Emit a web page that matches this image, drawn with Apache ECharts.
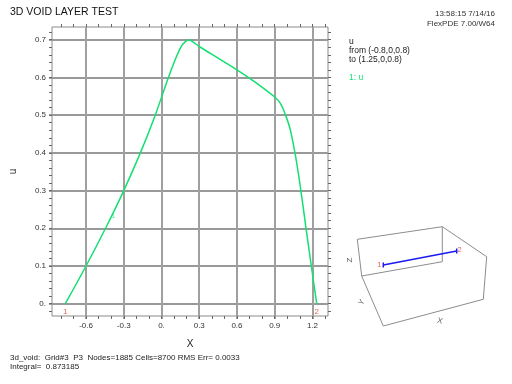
<!DOCTYPE html>
<html><head><meta charset="utf-8">
<script src="https://cdn.jsdelivr.net/npm/echarts@6/dist/echarts.min.js"></script>
<style>html,body{margin:0;padding:0;background:#fff}#c{width:512px;height:384px}</style>
</head><body><div id="c"></div>
<script>
// ---- data ----
const curveX = [-0.765,-0.6,-0.445,-0.30,-0.168,-0.05,0.055,0.103,0.155,0.19,0.221,0.25,0.3,0.45,0.6,0.75,0.9,0.945,0.984,1.024,1.071,1.108,1.149,1.191,1.234];
const curveU = [0,0.1,0.2,0.3,0.4,0.5,0.6,0.642,0.681,0.695,0.699,0.694,0.682,0.651,0.620,0.586,0.548,0.531,0.502,0.461,0.381,0.3,0.2,0.1,0];
const xTicks = [-0.6,-0.3,0,0.3,0.6,0.9,1.2];
const xMinor = [-0.8,-0.7,-0.6,-0.5,-0.4,-0.3,-0.2,-0.1,0,0.1,0.2,0.3,0.4,0.5,0.6,0.7,0.8,0.9,1.0,1.1,1.2,1.3];
const yTicks = [0,0.1,0.2,0.3,0.4,0.5,0.6,0.7];
const endLabels = ['1','2'];
// inset schematic (local units of the small 3D view)
const insetBoxPath = [[21.7,61],[17.3,24.3],[102.3,11.7],[146.7,41.7],[143.3,84.3],[43.3,111],[21.7,61],[102.3,46.7],[102.3,11.7]];
const insetLine = [[43.3,50],[116.7,36]];
const insetAxisNames = [['Z',9.3,45,90],['Y',21.7,87.3,60],['X',100,106,-15]];
const titleText = '3D VOID LAYER TEST';
const stampText = ['13:58:15 7/14/16','FlexPDE 7.00/W64'];
const legendText = ['u','from (-0.8,0,0.8)','to (1.25,0,0.8)'];
const footerText = ['3d_void:  Grid#3  P3  Nodes=1885 Cells=8700 RMS Err= 0.0033','Integral=  0.873185'];

const yMinor = [];
for (let i = -1; i <= 36; i++) yMinor.push(+(i*0.02).toFixed(2));

const XMIN = -0.8706, XMAX = 1.3236, YMIN = -0.0326, YMAX = 0.7337;
const FONT = 'Liberation Sans, Arial, sans-serif';
const GREEN = '#12e070';
const fmt = v => (Math.abs(v) < 1e-9 ? '0.' : (+v).toFixed(1));

const chart = echarts.init(document.getElementById('c'), null, {renderer:'canvas'});
const curve = curveX.map((x,i)=>[x,curveU[i]]);
const minorTickX = (pos)=>({type:'value',gridIndex:0,position:pos,min:XMIN,max:XMAX,
  axisLine:{show:false,onZero:false},axisLabel:{show:false},splitLine:{show:false},
  axisTick:{show:true,customValues:xMinor,length:3,inside:false,lineStyle:{color:'#666',width:1}}});
const minorTickY = (pos)=>({type:'value',gridIndex:0,position:pos,min:YMIN,max:YMAX,
  axisLine:{show:false,onZero:false},axisLabel:{show:false},splitLine:{show:false},
  axisTick:{show:true,customValues:yMinor,length:3,inside:false,lineStyle:{color:'#666',width:1}}});

chart.setOption({
  animation:false,
  textStyle:{fontFamily:FONT},
  grid:[
    {left:50,right:184,top:27,bottom:68,show:true,borderColor:'#8a8a8a',borderWidth:1,backgroundColor:'transparent'},
    {left:340,top:215,width:172,height:120,show:false}
  ],
  xAxis:[
    {type:'value',gridIndex:0,position:'bottom',min:XMIN,max:XMAX,
     axisLine:{show:false,onZero:false},
     axisTick:{show:true,customValues:xTicks,length:3,lineStyle:{color:'#a0a0a0',width:2}},
     axisLabel:{customValues:xTicks,formatter:fmt,fontSize:8,color:'#333',margin:6,fontFamily:FONT},
     splitLine:{show:true,lineStyle:{color:'#a0a0a0',width:2}},
     name:'X',nameLocation:'middle',nameGap:23,nameTextStyle:{fontSize:10,color:'#222',fontFamily:FONT}},
    minorTickX('bottom'),
    minorTickX('top'),
    {type:'value',gridIndex:1,min:0,max:172,show:false}
  ],
  yAxis:[
    {type:'value',gridIndex:0,position:'left',min:YMIN,max:YMAX,
     axisLine:{show:false,onZero:false},
     axisTick:{show:true,customValues:yTicks,length:3,lineStyle:{color:'#999',width:2}},
     axisLabel:{customValues:yTicks,formatter:fmt,fontSize:8,color:'#333',margin:6,fontFamily:FONT},
     splitLine:{show:true,lineStyle:{color:'#999',width:2}},
     name:'u',nameLocation:'middle',nameGap:34,nameTextStyle:{fontSize:10,color:'#222',fontFamily:FONT}},
    minorTickY('left'),
    minorTickY('right'),
    {type:'value',gridIndex:1,min:0,max:120,inverse:true,show:false}
  ],
  series:[
    {type:'line',xAxisIndex:0,yAxisIndex:0,data:curve,smooth:0.35,showSymbol:false,symbol:'none',
     lineStyle:{color:GREEN,width:1.5},z:5},
    {type:'scatter',xAxisIndex:0,yAxisIndex:0,symbolSize:1,itemStyle:{color:'transparent'},z:6,
     data:[
       {value:[curveX[0],curveU[0]],label:{show:true,formatter:endLabels[0],position:'bottom',distance:4,color:'#e03a3a',fontSize:8,fontFamily:FONT}},
       {value:[curveX[curveX.length-1],curveU[curveU.length-1]],label:{show:true,formatter:endLabels[1],position:'bottom',distance:4,color:'#e03a3a',fontSize:8,fontFamily:FONT}},
       {value:[-0.40,0.232],label:{show:true,formatter:'1',position:'right',distance:0,color:GREEN,fontSize:6,fontFamily:FONT}}
     ]},
    {type:'line',xAxisIndex:3,yAxisIndex:3,data:insetBoxPath,showSymbol:false,symbol:'none',
     lineStyle:{color:'#8c8c8c',width:1}},
    {type:'line',xAxisIndex:3,yAxisIndex:3,data:insetLine,symbol:'rect',symbolSize:[1.5,5],
     itemStyle:{color:'#1a1aee'},lineStyle:{color:'#1a1aee',width:1.5}},
    {type:'scatter',xAxisIndex:3,yAxisIndex:3,symbolSize:1,itemStyle:{color:'transparent'},
     data:[
       {value:insetLine[0],label:{show:true,formatter:endLabels[0],position:'left',distance:1,color:'#e03a3a',fontSize:8,fontFamily:FONT}},
       {value:insetLine[1],label:{show:true,formatter:endLabels[1],position:'right',distance:0,color:'#e03a3a',fontSize:8,fontFamily:FONT,offset:[0,-1]}}
     ]},
    {type:'scatter',xAxisIndex:3,yAxisIndex:3,symbolSize:1,itemStyle:{color:'transparent'},
     data:insetAxisNames.map(a=>({value:[a[1],a[2]],label:{show:true,formatter:a[0],position:'inside',rotate:a[3],color:'#333',fontSize:8,fontFamily:FONT}}))}
  ],
  graphic:[
    {type:'text',left:10,top:7,style:{text:titleText,font:'10.5px '+FONT,fill:'#111'}},
    {type:'text',right:17,top:10,style:{text:stampText[0],font:'8px '+FONT,fill:'#333'}},
    {type:'text',right:17,top:19.5,style:{text:stampText[1],font:'8px '+FONT,fill:'#333'}},
    {type:'text',left:349,top:37,style:{text:legendText.join('\n'),font:'8.5px '+FONT,fill:'#222',lineHeight:9}},
    {type:'text',left:349,top:73,style:{text:'1: u',font:'8.5px '+FONT,fill:GREEN}},
    {type:'text',left:10,top:353,style:{text:footerText.join('\n'),font:'8px '+FONT,fill:'#222',lineHeight:9}}
  ]
});
</script></body></html>
